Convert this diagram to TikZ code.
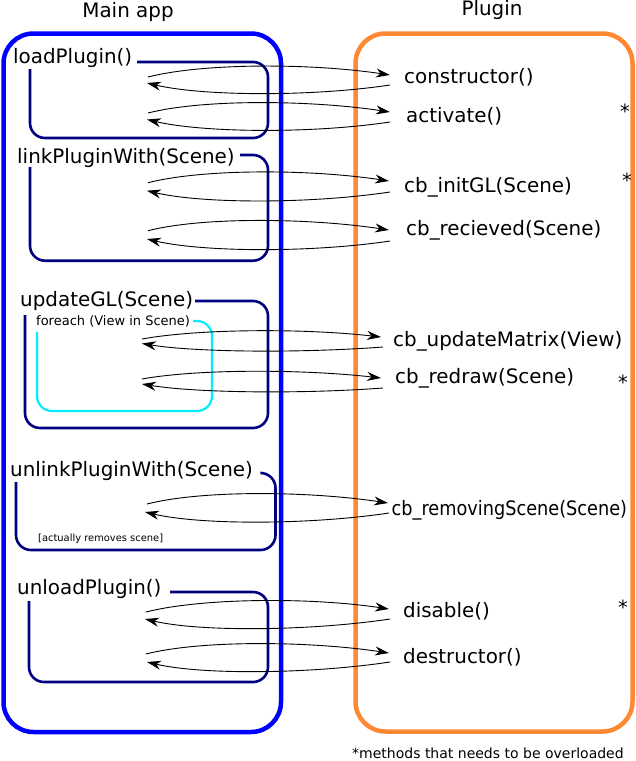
\documentclass[tikz,border=0pt]{standalone}
\usepackage{fontspec}
\setmainfont{DejaVu Sans}
\usetikzlibrary{arrows.meta}
\definecolor{mainblue}{RGB}{0,0,255}
\definecolor{plugorange}{RGB}{255,136,51}
\definecolor{grpnavy}{RGB}{0,0,128}
\definecolor{grpcyan}{RGB}{0,238,255}
\begin{document}
\begin{tikzpicture}[x=1pt,y=-1pt,
  lbl/.style={anchor=base west,inner sep=0pt,font=\fontsize{19.9}{23}\selectfont},
  ttl/.style={anchor=base,inner sep=0pt,font=\fontsize{19.9}{23}\selectfont},
  small/.style={anchor=base west,inner sep=0pt,font=\fontsize{13}{15}\selectfont},
  tiny/.style={anchor=base west,inner sep=0pt,font=\fontsize{9.9}{12}\selectfont},
  star/.style={inner sep=0pt,font=\fontsize{19.5}{23}\selectfont},
  outerbox/.style={line width=4.5pt,rounded corners=30pt},
  grp/.style={draw=grpnavy,line width=2.6pt,rounded corners=15pt},
  grpc/.style={draw=grpcyan,line width=2.2pt,rounded corners=15pt},
  call/.style={line width=0.9pt,-{Stealth[length=14pt,width=9pt,inset=4.5pt]}}]
\useasboundingbox (0,0) rectangle (636,761);
% titles
\node[ttl] (tmain) at (128,17) {Main app};
\node[ttl] (tplug) at (492,15) {Plugin};
% outer boxes
\draw[outerbox,draw=mainblue] (3.5,33.5) rectangle (281,732);
\draw[outerbox,draw=plugorange] (355.5,33.5) rectangle (632.5,731.5);
% left labels
\node[lbl] (load) at (13,63.3) {loadPlugin()};
\node[lbl] (link) at (17,163.3) {linkPluginWith(Scene)};
\node[lbl] (upd) at (20,306.7) {updateGL(Scene)};
\node[small] (fe) at (36,325.7) {foreach (View in Scene)};
\node[lbl] (unlink) at (10,476.7) {unlinkPluginWith(Scene)};
\node[tiny] (rem) at (38,541.7) {[actually removes scene]};
\node[lbl] (unload) at (17,594) {unloadPlugin()};
% right labels
\node[lbl] (ctor) at (404,83) {constructor()};
\node[lbl] (act) at (406,122) {activate()};
\node[lbl] (init) at (404,192) {cb\_initGL(Scene)};
\node[lbl] (recv) at (406,235) {cb\_recieved(Scene)};
\node[lbl] (umat) at (393,346.5) {cb\_updateMatrix(View)};
\node[lbl] (redr) at (395,383.5) {cb\_redraw(Scene)};
\node[lbl] (rms) at (391.5,515) {\scalebox{0.89}[1]{cb\_removingScene(Scene)}};
\node[lbl] (dis) at (403,617.3) {disable()};
\node[lbl] (dtor) at (403,663.3) {destructor()};
% asterisks
\node[star] (s1) at (625,111) {*};
\node[star] (s2) at (627,180) {*};
\node[star] (s3) at (623,382) {*};
\node[star] (s4) at (623,607) {*};
\node[anchor=base west,inner sep=0pt,font=\fontsize{14}{17}\selectfont] (foot) at (352,758) {*methods that needs to be overloaded};
% group brackets
\draw[grp] (137,62) -- (268,62) -- (268,138) -- (30,138) -- (30,69);
\draw[grp] (240,155) -- (268,155) -- (268,260.7) -- (30,260.7) -- (30,167);
\draw[grp] (195,301) -- (268,301) -- (268,428) -- (25,428) -- (25,315);
\draw[grpc] (193,321) -- (212,321) -- (212,411) -- (37,411) -- (37,332);
\draw[grp] (262,473) -- (275.5,473) -- (275.5,550) -- (16,550) -- (16,482);
\draw[grp] (170,592) -- (268,592) -- (268,682) -- (29,682) -- (29,601);
% arrow end points
\coordinate (a1) at (148,77);   \coordinate (b1) at (390,75);
\coordinate (c1) at (390,85);   \coordinate (d1) at (147,83);
\coordinate (a2) at (148,113);  \coordinate (b2) at (390,112);
\coordinate (c2) at (390,122);  \coordinate (d2) at (147,119.5);
\coordinate (a3) at (148,182.7);\coordinate (b3) at (389,181);
\coordinate (c3) at (390,192);  \coordinate (d3) at (147,190.7);
\coordinate (a4) at (148,230.7);\coordinate (b4) at (389,230);
\coordinate (c4) at (390,241);  \coordinate (d4) at (147,239);
\coordinate (a5) at (142,339);  \coordinate (b5) at (381,337);
\coordinate (c5) at (383,347);  \coordinate (d5) at (142,343.5);
\coordinate (a6) at (142,379);  \coordinate (b6) at (381,378);
\coordinate (c6) at (383,388);  \coordinate (d6) at (142,384);
\coordinate (a7) at (147,504);  \coordinate (b7) at (388,503);
\coordinate (c7) at (389,513);  \coordinate (d7) at (145,512);
\coordinate (a8) at (146,612);  \coordinate (b8) at (389,609);
\coordinate (c8) at (390,619);  \coordinate (d8) at (145,619);
\coordinate (a9) at (146,654);  \coordinate (b9) at (389,653);
\coordinate (c9) at (390,662);  \coordinate (d9) at (147,662);
% calls (big arches)
\foreach \i in {1,2,3,4,7,8,9}{
  \draw[call] (a\i) .. controls +(55,-14) and +(-80,-12) .. (b\i);
  \draw[call] (c\i) .. controls +(-80,12) and +(55,13) .. (d\i);
}
% calls (flatter, inside foreach)
\foreach \i in {5,6}{
  \draw[call] (a\i) .. controls +(55,-10) and +(-80,-9) .. (b\i);
  \draw[call] (c\i) .. controls +(-80,6) and +(55,9) .. (d\i);
}
\end{tikzpicture}
\end{document}
